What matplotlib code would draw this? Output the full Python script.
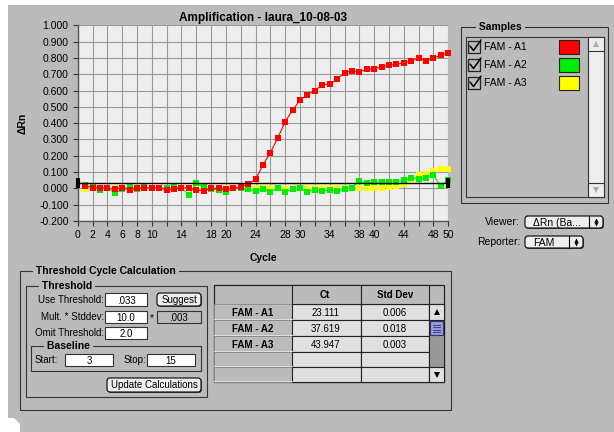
import matplotlib
matplotlib.use("Agg")
import matplotlib.pyplot as plt
import numpy as np
from matplotlib.patches import Rectangle, FancyBboxPatch, Polygon

plt.rcParams['font.family'] = ['Liberation Sans', 'DejaVu Sans']

# ---- data ----
cycles = np.arange(1, 51)
fam_a1 = [0.015, 0.005, 0.005, 0.0, -0.005, 0.005, -0.01, 0.0, 0.0, 0.005,
          0.005, -0.01, -0.005, 0.005, 0.0, -0.01, -0.015, 0.0, 0.0, -0.005,
          0.0, 0.01, 0.025, 0.055, 0.145, 0.22, 0.31, 0.41, 0.48, 0.54,
          0.575, 0.60, 0.635, 0.64, 0.67, 0.71, 0.72, 0.715, 0.73, 0.735,
          0.745, 0.755, 0.76, 0.77, 0.78, 0.80, 0.78, 0.80, 0.815, 0.83]
fam_a2 = [0.02, 0.01, -0.01, 0.005, -0.03, -0.005, 0.01, -0.005, 0.01, 0.0,
          0.005, 0.0, 0.01, 0.005, -0.04, 0.03, 0.01, -0.005, -0.01, -0.02,
          0.0, 0.0, -0.005, -0.015, -0.005, -0.02, 0.0, -0.02, -0.005, 0.0,
          -0.02, -0.01, -0.015, -0.01, -0.015, -0.005, 0.005, 0.045, 0.03, 0.04,
          0.04, 0.04, 0.04, 0.05, 0.065, 0.06, 0.065, 0.08, 0.015, 0.05]
fam_a3 = [-0.005, 0.005, 0.0, 0.0, 0.0, -0.005, 0.0, -0.005, 0.0, 0.0,
          0.0, -0.005, 0.0, 0.0, 0.0, 0.0, -0.005, -0.005, 0.0, 0.0,
          0.0, 0.0, 0.0, 0.0, 0.0, 0.0, 0.0, -0.005, 0.0, 0.0,
          0.0, 0.0, 0.0, 0.0, 0.0, 0.005, 0.005, 0.005, 0.0, 0.0,
          0.0, 0.01, 0.015, 0.025, 0.05, 0.08, 0.09, 0.105, 0.12, 0.12]
threshold = 0.033

samples = ['FAM - A1', 'FAM - A2', 'FAM - A3']
sample_colors = ['#ff0000', '#00ee00', '#ffff00']
ct = ['23.111', '37.619', '43.947']
std_dev = ['0.006', '0.018', '0.003']

x_ticks = np.arange(0, 51, 2)
x_tick_labels = ['0', '2', '4', '6', '8', '10', '', '14', '', '18', '20', '', '24',
                 '', '28', '30', '', '34', '', '38', '40', '', '44', '', '48', '50']
y_ticks = np.arange(-0.2, 1.01, 0.1)

BG = '#bbbbbb'
LINE = '#333333'

fig = plt.figure(figsize=(6.14, 4.32), dpi=100)
fig.patch.set_facecolor(BG)

# overlay in pixel coords for the window chrome
ui = fig.add_axes([0, 0, 1, 1])
ui.set_xlim(0, 614)
ui.set_ylim(432, 0)
ui.axis('off')
ui.set_zorder(0)


def rect(x0, y0, x1, y1, fc='none', ec=LINE, lw=0.8, z=1):
    ui.add_patch(Rectangle((x0, y0), x1 - x0, y1 - y0, facecolor=fc,
                           edgecolor=ec, linewidth=lw, zorder=z))


def frame(x0, y0, x1, y1, title, tx):
    rect(x0, y0, x1, y1)
    ui.text(tx, y0, ' ' + title + ' ', fontsize=7.5, fontweight='bold',
            va='center', ha='left', zorder=3,
            bbox=dict(facecolor=BG, edgecolor='none', pad=0))


def field(x0, y0, x1, y1, txt, fc='white'):
    rect(x0 + 1, y0 + 1, x1 + 1, y1 + 1, fc='#555555', ec='none', z=1)
    rect(x0, y0, x1, y1, fc=fc, z=2)
    ui.text((x0 + x1) / 2, (y0 + y1) / 2 + 1, txt, fontsize=7,
            ha='center', va='center', zorder=3)


def button(x0, y0, x1, y1, txt):
    ui.add_patch(FancyBboxPatch((x0 + 1, y0 + 1), x1 - x0, y1 - y0,
                                boxstyle='round,pad=0,rounding_size=3',
                                facecolor='#555555', edgecolor='none', zorder=1))
    ui.add_patch(FancyBboxPatch((x0, y0), x1 - x0, y1 - y0,
                                boxstyle='round,pad=0,rounding_size=3',
                                facecolor='#eeeeee', edgecolor='black',
                                linewidth=0.8, zorder=2))
    ui.text((x0 + x1) / 2, (y0 + y1) / 2 + 0.5, txt, fontsize=7,
            ha='center', va='center', zorder=3)


# white window edges
rect(0, 0, 614, 5, fc='white', ec='none')
rect(0, 0, 8, 432, fc='white', ec='none')
ui.add_patch(Polygon([[0, 418], [14, 418], [20, 424], [20, 432], [0, 432]],
                     closed=True, facecolor='white', edgecolor='none'))

# ---- amplification plot ----
ax = fig.add_axes([77.7 / 614, 1 - 221 / 432, (448.3 - 77.7) / 614, (221 - 25.3) / 432])
ax.set_zorder(2)
ax.set_facecolor('#eeeeee')
ax.plot(cycles, fam_a3, color=sample_colors[2], lw=0.8, marker='s', ms=4.3,
        mew=0, clip_on=False, zorder=3)
ax.plot(cycles, fam_a2, color=sample_colors[1], lw=0.8, marker='s', ms=4.3,
        mew=0, clip_on=False, zorder=4)
ax.plot(cycles, fam_a1, color=sample_colors[0], lw=0.8, marker='s', ms=4.3,
        mew=0, clip_on=False, zorder=5)
ax.plot([0, 50], [threshold, threshold], color='black', lw=1.0,
        marker='|', ms=7, mew=3, clip_on=False, zorder=6)
ax.set_xlim(0, 50)
ax.set_ylim(-0.2, 1.0)
ax.set_xticks(x_ticks)
ax.set_xticklabels(x_tick_labels)
ax.set_yticks(y_ticks)
ax.set_yticklabels(['%.3f' % v for v in y_ticks])
ax.grid(True, color='#999999', lw=0.8)
ax.set_axisbelow(True)
for s in ['top', 'right']:
    ax.spines[s].set_visible(False)
for s in ['left', 'bottom']:
    ax.spines[s].set_color('#555555')
    ax.spines[s].set_linewidth(1.0)
ax.tick_params(direction='out', length=3.5, width=0.8, color='#333333',
               labelsize=7.5, pad=3)
ax.set_title('Amplification - laura_10-08-03', fontsize=8.5,
             fontweight='bold', pad=3)
ax.set_xlabel('Cycle', fontsize=7.5, fontweight='bold', labelpad=9)
ax.set_ylabel('ΔRn', fontsize=7.5, fontweight='bold', labelpad=8)

# ---- Samples panel ----
frame(461, 27, 608, 203, 'Samples', 476)
rect(466, 37, 604, 197)
rect(588, 37, 604, 197, fc='#eeeeee')
rect(588, 37, 604, 51, fc='#eeeeee')
rect(588, 183, 604, 197, fc='#eeeeee')
ui.plot([596], [44], marker='^', ms=4, color='#aaaaaa', mew=0)
ui.plot([596], [190], marker='v', ms=4, color='#aaaaaa', mew=0)
for i, (name, c) in enumerate(zip(samples, sample_colors)):
    yc = 47 + 18 * i
    rect(468, yc - 6, 480, yc + 6, fc='none', ec='#222222', lw=0.9)
    ui.plot([470, 473.5, 481], [yc - 1, yc + 3.5, yc - 7], color='black',
            lw=1.1, solid_capstyle='round')
    ui.text(484, yc + 0.5, name, fontsize=7.5, va='center', ha='left')
    rect(559, yc - 7, 579, yc + 7, fc=c, ec='#222222', lw=0.8)

# viewer / reporter popups
ui.text(520, 222, 'Viewer:', fontsize=7.5, ha='right', va='center')
ui.text(520, 242, 'Reporter:', fontsize=7.5, ha='right', va='center')
for (x0, x1, y0, y1, txt) in [(525, 603, 216, 228, 'ΔRn (Ba...'),
                              (525, 583, 236, 248, 'FAM')]:
    ui.add_patch(FancyBboxPatch((x0 + 1, y0 + 1), x1 - x0, y1 - y0,
                                boxstyle='round,pad=0,rounding_size=3',
                                facecolor='#555555', edgecolor='none', zorder=1))
    ui.add_patch(FancyBboxPatch((x0, y0), x1 - x0, y1 - y0,
                                boxstyle='round,pad=0,rounding_size=3',
                                facecolor='#eeeeee', edgecolor='black',
                                linewidth=0.8, zorder=2))
    ui.plot([x1 - 14, x1 - 14], [y0, y1], color='black', lw=0.8, zorder=3)
    ui.plot([x1 - 7], [(y0 + y1) / 2 - 2], marker='^', ms=3, color='black', mew=0, zorder=3)
    ui.plot([x1 - 7], [(y0 + y1) / 2 + 2.2], marker='v', ms=3, color='black', mew=0, zorder=3)
    ui.text(x0 + 8, (y0 + y1) / 2 + 0.5, txt, fontsize=7.5, ha='left',
            va='center', zorder=3)

# ---- Threshold Cycle Calculation panel ----
frame(20, 271, 451, 410, 'Threshold Cycle Calculation', 33)
frame(26, 286, 207, 397, 'Threshold', 39)
ui.text(104, 300, 'Use Threshold:', fontsize=7, ha='right', va='center')
field(105, 293, 147, 306, '.033')
button(157, 293, 201, 306, 'Suggest')
ui.text(104, 317, 'Mult. * Stddev:', fontsize=7, ha='right', va='center')
field(105, 311, 147, 323, '10.0')
ui.text(152, 318, '*', fontsize=7.5, ha='center', va='center')
field(157, 311, 201, 323, '.003', fc=BG)
ui.text(104, 333, 'Omit Threshold:', fontsize=7, ha='right', va='center')
field(105, 327, 147, 339, '2.0')
frame(31, 346, 201, 371, 'Baseline', 44)
ui.text(35, 360, 'Start:', fontsize=7, ha='left', va='center')
field(65, 354, 113, 366, '3')
ui.text(146, 360, 'Stop:', fontsize=7, ha='right', va='center')
field(147, 354, 195, 366, '15')
button(107, 378, 201, 392, 'Update Calculations')

# results table
col_x = [214, 292, 361, 429, 444]
row_y = [285, 304, 320, 336, 352, 367, 382]
rect(214, 285, 444, 382, fc=BG, ec='#222222', lw=0.9)
for r in range(5):
    y0, y1 = row_y[r + 1], row_y[r + 2]
    rect(col_x[0], y0, col_x[1], y1, fc=BG, ec='#888888', lw=0.6)
    ui.plot([col_x[0], col_x[1]], [y1 - 1, y1 - 1], color='#e6e6e6', lw=0.6)
    for c in (1, 2):
        rect(col_x[c], y0, col_x[c + 1], y1, fc='#e0e0e0', ec='#222222', lw=0.8)
for c in (1, 2):
    rect(col_x[c], 285, col_x[c + 1], 304, fc=BG, ec='#222222', lw=0.8)
ui.text(325, 295, 'Ct', fontsize=7, fontweight='bold', ha='center', va='center')
ui.text(395, 295, 'Std Dev', fontsize=7, fontweight='bold', ha='center', va='center')
for i in range(3):
    yc = (row_y[i + 1] + row_y[i + 2]) / 2 + 0.5
    ui.text(253, yc, samples[i], fontsize=7, fontweight='bold',
            ha='center', va='center')
    ui.text(326, yc, ct[i], fontsize=7, ha='center', va='center')
    ui.text(395, yc, std_dev[i], fontsize=7, ha='center', va='center')
# table scrollbar
rect(429, 304, 444, 382, fc='#999999', ec='#222222', lw=0.8)
rect(429, 304, 444, 320, fc='#e0e0e0', ec='#222222', lw=0.8)
rect(429, 367, 444, 382, fc='#e0e0e0', ec='#222222', lw=0.8)
rect(430, 321, 443, 335, fc='#9999dd', ec='#333366', lw=0.8)
for k in range(4):
    ui.plot([433, 440], [324.5 + 2.5 * k, 324.5 + 2.5 * k], color='#333366', lw=0.6)
ui.plot([436.5], [312], marker='^', ms=4, color='black', mew=0)
ui.plot([436.5], [374.5], marker='v', ms=4, color='black', mew=0)

fig.savefig('out.png', dpi=100, facecolor=fig.get_facecolor())
